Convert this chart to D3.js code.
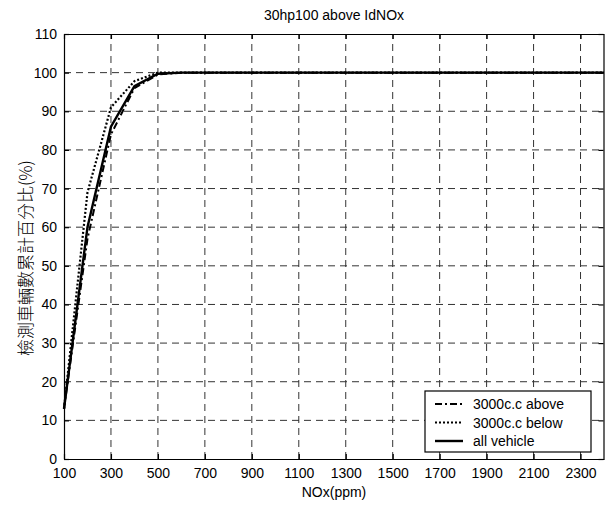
<!DOCTYPE html>
<html>
<head>
<meta charset="utf-8">
<script src="https://cdn.jsdelivr.net/npm/d3@7"></script>
<style>
body{margin:0;background:#fff;}
svg{font-family:"Liberation Sans",Arial,sans-serif;}
</style>
</head>
<body>
<div id="chart"></div>
<script>
// data
const nox = [100,200,300,400,500,600,700,800,900,1000,1100,1200,1300,1400,1500,1600,1700,1800,1900,2000,2100,2200,2300,2400];
const above = [13,57,84,96,99.5,100,100,100,100,100,100,100,100,100,100,100,100,100,100,100,100,100,100,100];
const below = [13,69,91,97.8,100,100,100,100,100,100,100,100,100,100,100,100,100,100,100,100,100,100,100,100];
const allVeh = [13,60,86,96.5,99.7,100,100,100,100,100,100,100,100,100,100,100,100,100,100,100,100,100,100,100];
const xTicks = [100,300,500,700,900,1100,1300,1500,1700,1900,2100,2300];
const yTicks = [0,10,20,30,40,50,60,70,80,90,100,110];
const seriesNames = ["3000c.c above","3000c.c below","all vehicle"];

const W=605,H=510;
const m={left:64,right:1,top:34,bottom:51};
let svg=d3.select("#chart").append("svg").attr("width",W).attr("height",H);

let x=d3.scaleLinear().domain([100,2400]).range([m.left,W-m.right]);
let y=d3.scaleLinear().domain([0,110]).range([H-m.bottom,m.top]);

/* grid */
let grid=svg.append("g").attr("stroke","#333").attr("stroke-width",1).attr("stroke-dasharray","7,5");
grid.selectAll(".gx").data(xTicks.slice(1)).enter().append("line")
 .attr("x1",d=>x(d)).attr("x2",d=>x(d)).attr("y1",y(0)).attr("y2",y(110));
grid.selectAll(".gy").data(yTicks.slice(1,-1)).enter().append("line")
 .attr("x1",x(100)).attr("x2",x(2400)).attr("y1",d=>y(d)).attr("y2",d=>y(d));

/* axes */
let axB=svg.append("g").attr("transform","translate(0,"+y(0)+")")
 .call(d3.axisBottom(x).tickValues(xTicks).tickFormat(d3.format("d")).tickSizeInner(-5).tickSizeOuter(0).tickPadding(9));
let axL=svg.append("g").attr("transform","translate("+x(100)+",0)")
 .call(d3.axisLeft(y).tickValues(yTicks).tickSizeInner(-5).tickSizeOuter(0).tickPadding(7));
let axT=svg.append("g").attr("transform","translate(0,"+y(110)+")")
 .call(d3.axisTop(x).tickValues(xTicks).tickSizeInner(-5).tickSizeOuter(0).tickFormat(""));
let axR=svg.append("g").attr("transform","translate("+(x(2400)-0.5)+",0)")
 .call(d3.axisRight(y).tickValues(yTicks).tickSizeInner(-5).tickSizeOuter(0).tickFormat(""));
[axB,axL,axT,axR].forEach(a=>{
 a.selectAll("path,line").attr("stroke","#000").attr("stroke-width",1.2);
 a.selectAll("text").attr("fill","#000").style("font-size","14px").style("font-family","'Liberation Sans',Arial,sans-serif");
});

/* lines */
let line=d3.line().x((d,i)=>x(nox[i])).y(d=>y(d));
const styles=[{dash:"7,3,2,3",w:2},{dash:"2,2",w:2.2},{dash:null,w:2.4}];
[above,below,allVeh].forEach((s,i)=>{
 svg.append("path").datum(s).attr("d",line).attr("fill","none").attr("stroke","#000")
  .attr("stroke-width",styles[i].w).attr("stroke-dasharray",styles[i].dash);
});

/* titles */
svg.append("text").attr("x",(x(100)+x(2400))/2).attr("y",20).attr("text-anchor","middle")
 .style("font-size","14px").text("30hp100 above IdNOx");
svg.append("text").attr("x",(x(100)+x(2400))/2).attr("y",497).attr("text-anchor","middle")
 .style("font-size","14px").text("NOx(ppm)");
svg.append("text").attr("transform","translate(32,258) rotate(-90)").attr("text-anchor","middle")
 .style("font-size","17px").style("font-weight","300").style("font-family","'Noto Sans CJK TC','Liberation Sans',sans-serif").text("檢測車輛數累計百分比(%)");

/* legend */
let lg=svg.append("g");
lg.append("rect").attr("x",425).attr("y",391).attr("width",166).attr("height",61)
 .attr("fill","#fff").attr("stroke","#000").attr("stroke-width",1.2);
seriesNames.forEach((n,i)=>{
 let yy=404+i*18.5;
 lg.append("line").attr("x1",435).attr("x2",463).attr("y1",yy).attr("y2",yy)
  .attr("stroke","#000").attr("stroke-width",styles[i].w).attr("stroke-dasharray",styles[i].dash);
 lg.append("text").attr("x",473).attr("y",yy+5).style("font-size","14px").text(n);
});
</script>
</body>
</html>
